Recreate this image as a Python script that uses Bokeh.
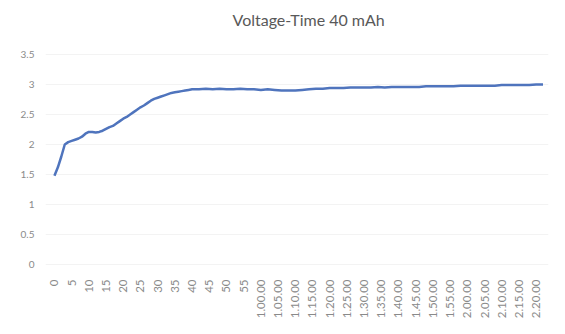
from math import pi
from bokeh.plotting import figure
from bokeh.models import FixedTicker, Range1d
from bokeh.embed import file_html
from bokeh.resources import INLINE

# time in minutes
minutes = [0, 1, 2, 3, 4, 5, 6, 7, 8, 9, 10, 11, 12, 13, 14, 15, 16, 17, 18, 19,
           20, 21, 22, 23, 24, 25, 26, 27, 28, 29, 30, 31, 32, 33, 34, 35, 36, 37, 38, 39,
           40, 42, 44, 46, 48, 50, 52, 54, 56, 58, 60, 62, 64, 66, 68, 70, 72, 74, 76, 78,
           80, 82, 84, 86, 88, 90, 92, 94, 96, 98, 100, 102, 104, 106, 108, 110, 112, 114,
           116, 118, 120, 122, 124, 126, 128, 130, 132, 134, 136, 138, 140, 142]
voltage = [1.48, 1.62, 1.80, 2.00, 2.04, 2.06, 2.08, 2.10, 2.13, 2.18, 2.21, 2.21, 2.20, 2.21,
           2.23, 2.26, 2.29, 2.31, 2.35, 2.39, 2.43, 2.46, 2.50, 2.54, 2.58, 2.62, 2.65, 2.69,
           2.73, 2.76, 2.78, 2.80, 2.82, 2.84, 2.86, 2.87, 2.88, 2.89, 2.90, 2.91, 2.92, 2.92,
           2.93, 2.92, 2.93, 2.92, 2.92, 2.93, 2.92, 2.92, 2.91, 2.92, 2.91, 2.90, 2.90, 2.90,
           2.91, 2.92, 2.93, 2.93, 2.94, 2.94, 2.94, 2.95, 2.95, 2.95, 2.95, 2.96, 2.95, 2.96,
           2.96, 2.96, 2.96, 2.96, 2.97, 2.97, 2.97, 2.97, 2.97, 2.98, 2.98, 2.98, 2.98, 2.98,
           2.98, 2.99, 2.99, 2.99, 2.99, 2.99, 3.00, 3.00]

title_text = "Voltage-Time 40 mAh"
tick_minutes = list(range(0, 141, 5))
tick_labels = ["0", "5", "10", "15", "20", "25", "30", "35", "40", "45", "50", "55",
               "1.00.00", "1.05.00", "1.10.00", "1.15.00", "1.20.00", "1.25.00", "1.30.00",
               "1.35.00", "1.40.00", "1.45.00", "1.50.00", "1.55.00", "2.00.00", "2.05.00",
               "2.10.00", "2.15.00", "2.20.00"]
y_ticks = [0, 0.5, 1, 1.5, 2, 2.5, 3, 3.5]
y_labels = ["0", "0.5", "1", "1.5", "2", "2.5", "3", "3.5"]

p = figure(width=557, height=326, output_backend="svg", toolbar_location=None,
           x_range=Range1d(-2.6, 143.6), y_range=Range1d(-0.067, 3.567),
           min_border_left=45, min_border_right=9, min_border_top=50, min_border_bottom=58)

p.line(minutes, voltage, line_color="#4f74bd", line_width=2.5)

# a blank second line keeps the title well above the plot area
p.title.text = title_text + "\n "
p.title.align = "left"
p.title.offset = 187
p.title.standoff = 6
p.title.text_font = "Lato"
p.title.text_font_size = "16px"
p.title.text_font_style = "normal"
p.title.text_color = "#595959"

p.xaxis.ticker = FixedTicker(ticks=tick_minutes)
p.xaxis.major_label_overrides = {t: l for t, l in zip(tick_minutes, tick_labels)}
p.xaxis.major_label_orientation = pi / 2
p.yaxis.ticker = FixedTicker(ticks=y_ticks)
p.yaxis.major_label_overrides = {t: l for t, l in zip(y_ticks, y_labels)}

for ax in (p.xaxis, p.yaxis):
    ax.axis_line_color = None
    ax.major_tick_line_color = None
    ax.minor_tick_line_color = None
    ax.major_label_text_font = "Lato"
    ax.major_label_text_color = "#8a8a8a"
    ax.major_label_standoff = 5
p.xaxis.major_label_text_font_size = "11.5px"
p.yaxis.major_label_text_font_size = "10px"

p.xgrid.grid_line_color = None
p.ygrid.grid_line_color = "#f3f3f3"
p.outline_line_color = None

open("out.html", "w").write(file_html(p, INLINE))
